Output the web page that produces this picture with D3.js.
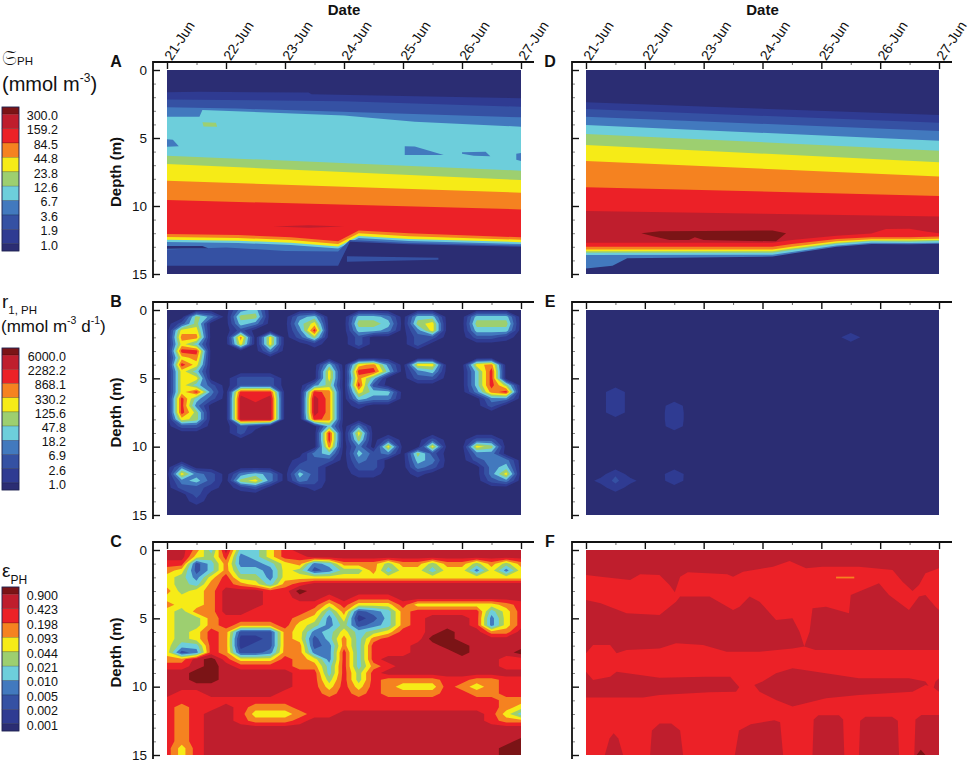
<!DOCTYPE html>
<html>
<head>
<meta charset="utf-8">
<script src="https://cdn.jsdelivr.net/npm/d3@7"></script>
<style>
  body { margin: 0; background: #fff; }
  svg text { font-family: "Liberation Sans", Arial, Helvetica, sans-serif; fill: #111; }
</style>
</head>
<body>
<svg id="chart" width="969" height="764"></svg>
<script>
// ---------- values ----------
const DAYS = ['21-Jun', '22-Jun', '23-Jun', '24-Jun', '25-Jun', '26-Jun', '27-Jun'];
const DEPTH_TICKS = [0, 5, 10, 15];

// colour of each contour level, 0 = lowest (below the last label) ... 10 = highest
const LEVEL_COLORS = ['#2b2d73', '#2f3b92', '#3551a3', '#4279be', '#6dcedb', '#9dcf70',
                      '#f6eb17', '#f58220', '#ec2127', '#bf1e2d', '#7b1416'];

const CONC_LABELS = ['300.0', '159.2', '84.5', '44.8', '23.8', '12.6', '6.7', '3.6', '1.9', '1.0'];
const RATE_LABELS = ['6000.0', '2282.2', '868.1', '330.2', '125.6', '47.8', '18.2', '6.9', '2.6', '1.0'];
const EFF_LABELS = ['0.900', '0.423', '0.198', '0.093', '0.044', '0.021', '0.010', '0.005', '0.002', '0.001'];

// Panels A, D, F: level boundaries, [level below the line, [[day, depth], ...]], top to bottom
const LAYERS_A = [
  [1, [[0, 1.64], [0.55, 1.6], [2.4, 1.66], [2.45, 1.78], [6, 2.08]]],
  [2, [[0, 2.16], [3, 2.3], [6, 2.7]]],
  [3, [[0, 2.74], [1.2, 2.84], [6, 3.48]]],
  [4, [[0, 3.43], [0.55, 3.43], [0.6, 2.94], [3, 3.35], [4.2, 3.8], [6, 4.17]]],
  [5, [[0, 6.3], [6, 7.4]]],
  [6, [[0, 6.91], [6, 8.09]]],
  [7, [[0, 8.14], [6, 9.02]]],
  [8, [[0, 9.56], [6, 10.25]]],
  [7, [[0, 12.06], [1.2, 12.13], [2.1, 12.3], [2.9, 12.6], [3.25, 11.8], [4.1, 12.0], [6, 12.3]]],
  [6, [[0, 12.28], [1.2, 12.35], [2.1, 12.5], [2.9, 12.8], [3.25, 12.0], [4.1, 12.22], [6, 12.48]]],
  [4, [[0, 12.48], [1.2, 12.55], [2.1, 12.7], [2.9, 12.97], [3.25, 12.2], [4.1, 12.42], [6, 12.66]]],
  [3, [[0, 12.64], [1.2, 12.72], [2.1, 12.86], [2.9, 13.12], [3.25, 12.36], [4.1, 12.58], [6, 12.8]]],
  [2, [[0, 13.2], [1, 13.05], [2, 13.3], [2.9, 13.35], [3.1, 12.5], [4.1, 12.72], [6, 12.9]]],
  [0, [[0, 14.4], [2.9, 14.4], [3.1, 12.62], [4.1, 12.82], [6, 13.0]]]
];
const PATCHES_A = [
  [5, [[0.6, 3.85], [0.83, 3.87], [0.85, 4.17], [0.62, 4.15]]],
  [3, [[0, 5.1], [0.1, 5.12], [0.2, 5.6], [0, 5.65]]],
  [3, [[4.03, 5.6], [4.2, 5.62], [4.69, 6.25], [4.03, 6.25]]],
  [3, [[5.0, 6.05], [5.4, 6.02], [5.48, 6.35], [5.2, 6.3], [5.0, 6.15]]],
  [3, [[5.92, 6.15], [6, 6.1], [6, 6.7], [5.92, 6.6]]],
  [9, [[1.8, 11.5], [2.4, 11.42], [3.0, 11.5], [2.4, 11.6]]],
  [2, [[3.05, 13.7], [4.6, 13.8], [4.6, 13.95], [3.05, 14.1]]],
  [0, [[0, 12.95], [0.6, 12.95], [0.7, 13.1], [0, 13.15]]]
];

const LAYERS_D = [
  [1, [[0, 2.38], [6, 3.31]]],
  [2, [[0, 2.87], [6, 3.87]]],
  [3, [[0, 3.43], [6, 4.49]]],
  [4, [[0, 4.04], [6, 5.2]]],
  [5, [[0, 4.7], [6, 5.93]]],
  [6, [[0, 5.51], [6, 6.79]]],
  [7, [[0, 6.69], [6, 7.84]]],
  [8, [[0, 8.62], [6, 9.26]]],
  [9, [[0, 10.37], [6, 10.78]]],
  [8, [[0, 12.7], [3.17, 12.7], [3.5, 12.5], [4.26, 12.18], [4.85, 12.02], [5.1, 11.7], [5.5, 11.68], [5.8, 11.9], [6, 12.0]]],
  [7, [[0, 13.0], [3.17, 13.0], [3.5, 12.8], [4.26, 12.43], [4.85, 12.3], [5.5, 12.3], [6, 12.25]]],
  [6, [[0, 13.2], [3.17, 13.2], [3.5, 13.0], [4.26, 12.6], [4.85, 12.45], [5.5, 12.45], [6, 12.4]]],
  [5, [[0, 13.33], [3.17, 13.33], [3.5, 13.13], [4.26, 12.7], [4.85, 12.54], [5.5, 12.54], [6, 12.5]]],
  [4, [[0, 13.43], [3.17, 13.43], [3.5, 13.23], [4.26, 12.78], [4.85, 12.6], [5.5, 12.62], [6, 12.58]]],
  [3, [[0, 13.6], [3.17, 13.58], [3.5, 13.38], [4.26, 12.9], [4.85, 12.7], [5.5, 12.72], [6, 12.7]]],
  [0, [[0, 14.6], [0.45, 14.4], [0.7, 13.85], [3.17, 13.72], [3.5, 13.5], [4.26, 13.0], [4.85, 12.8], [5.5, 12.82], [6, 12.78]]]
];
const PATCHES_D = [
  [10, [[0.94, 12.0], [1.25, 11.86], [2.0, 11.83], [3.17, 11.8], [3.4, 12.0], [3.23, 12.6],
        [2.0, 12.5], [1.85, 12.3], [1.75, 12.5], [1.42, 12.5], [1.14, 12.22]]]
];

const LAYERS_F = [
  [8, [[0, 1.83], [0.25, 1.95], [0.75, 2.2], [0.92, 1.78], [1.25, 1.83], [1.42, 2.56], [1.51, 3.1], [1.6, 1.95],
       [1.73, 1.63], [2.4, 1.78], [2.5, 1.95], [2.67, 1.59], [3.18, 1.22], [3.46, 0.8], [3.74, 1.34], [4.02, 1.22],
       [4.64, 1.22], [5.21, 1.46], [5.38, 2.32], [5.55, 3.0], [5.66, 2.56], [5.77, 1.71], [6, 1.34]]],
  [9, [[0, 3.66], [0.25, 3.9], [0.69, 4.63], [1.25, 4.76], [1.53, 3.78], [1.6, 3.41], [2.1, 3.41], [2.5, 4.39],
       [2.61, 4.15], [2.78, 3.41], [2.95, 3.78], [3.23, 5.12], [3.51, 5.0], [3.63, 5.98], [3.71, 7.07], [3.8, 5.98],
       [3.85, 4.27], [4.08, 4.15], [4.47, 4.63], [4.5, 3.29], [4.98, 2.44], [5.15, 3.29], [5.49, 4.39], [5.66, 3.41],
       [5.77, 3.29], [5.94, 4.15], [6, 4.39]]],
  [8, [[0, 7.56], [0.12, 6.95], [0.41, 6.95], [0.52, 7.56], [0.69, 7.32], [1.25, 7.2], [1.53, 6.83], [1.99, 6.95],
       [2.39, 7.44], [2.95, 7.44], [3.51, 7.2], [3.71, 7.07], [3.9, 7.32], [6, 7.32]]],
  [9, [[0, 8.9], [0.12, 9.51], [0.41, 9.27], [0.52, 8.9], [1.25, 9.34], [2.03, 9.27], [2.45, 9.27], [2.6, 10.0],
       [2.72, 10.4], [2.85, 9.9], [3.0, 9.63], [3.23, 9.02], [3.51, 8.66], [4.64, 9.39], [5.49, 9.39], [5.77, 9.63],
       [5.89, 10.37], [5.94, 9.63], [6, 9.39]]],
  [8, [[0, 10.8], [0.97, 10.8], [1.25, 10.61], [2.1, 10.41], [2.55, 10.37], [2.63, 9.88], [2.86, 9.88], [2.95, 10.37],
       [3.23, 10.98], [3.51, 11.46], [4.08, 10.85], [4.64, 10.61], [5.55, 10.37], [5.77, 9.88], [5.89, 10.0], [6, 10.37]]]
];
const PATCHES_F = [
  [9, [[0.32, 15], [0.4, 13.8], [0.47, 13.41], [0.55, 13.8], [0.63, 15]]],
  [9, [[1.09, 15], [1.12, 13.2], [1.25, 12.7], [1.45, 12.7], [1.6, 13.2], [1.65, 15]]],
  [9, [[2.53, 15], [2.6, 13.2], [2.8, 12.75], [3.2, 12.45], [3.3, 12.6], [3.35, 15]]],
  [9, [[3.85, 15], [3.87, 12.4], [3.95, 12.1], [4.3, 12.1], [4.37, 12.4], [4.39, 15]]],
  [9, [[4.64, 15], [4.66, 12.5], [4.75, 12.2], [5.2, 12.2], [5.3, 12.5], [5.32, 15]]],
  [9, [[5.58, 15], [5.6, 12.4], [5.7, 12.07], [6, 12.07], [6, 15]]],
  [10, [[5.62, 15], [5.69, 14.62], [5.77, 15]]],
  [7, [[4.25, 1.95], [4.56, 1.95], [4.56, 2.08], [4.25, 2.08]]]
];

// Panels B, E: non-background grid cells [day, depth, level] (grid: 0.25 day x 0.5 m)
const CELLS_B = [
  [0.25, 1, 2], [0.25, 1.5, 6], [0.25, 2, 7], [0.25, 2.5, 6], [0.25, 3, 8], [0.25, 3.5, 6], [0.25, 4, 8], [0.25, 4.5, 6],
  [0.25, 5, 6], [0.25, 5.5, 6], [0.25, 6, 6], [0.25, 6.5, 8], [0.25, 7, 8], [0.25, 7.5, 8], [0.25, 8, 6], [0.25, 8.5, 2],
  [0.5, 0.5, 5], [0.5, 1, 5], [0.5, 1.5, 6], [0.5, 2, 7], [0.5, 2.5, 4], [0.5, 3, 8], [0.5, 3.5, 7], [0.5, 4, 6],
  [0.5, 4.5, 4], [0.5, 5, 6], [0.5, 5.5, 4], [0.5, 6, 8], [0.5, 6.5, 4], [0.5, 7, 3], [0.5, 7.5, 5], [0.5, 8, 5], [0.5, 8.5, 2],
  [0.75, 0.5, 3], [0.75, 5.5, 2], [0.75, 6, 3], [0.75, 6.5, 2],
  [0.25, 11.5, 3], [0.25, 12, 6], [0.25, 12.5, 3], [0.25, 13, 2], [0.5, 12, 3], [0.5, 12.5, 4], [0.5, 13, 2],
  [0.5, 13.5, 2], [0.5, 14, 1], [0.75, 12, 2], [0.75, 12.5, 2], [0.75, 13, 1],
  [1.25, 0, 3], [1.25, 0.5, 5], [1.25, 1, 4], [1.25, 1.5, 2], [1.25, 2, 7], [1.25, 2.5, 6],
  [1.5, 0, 4], [1.5, 0.5, 5], [1.5, 1, 3], [1.75, 2, 6], [1.75, 2.5, 6], [1.75, 3, 3],
  [1.25, 5, 2], [1.5, 5, 2], [1.75, 5, 2], [1.25, 5.5, 2], [1.5, 5.5, 2], [1.75, 5.5, 2],
  [1.25, 6, 8], [1.5, 6, 8], [1.75, 6, 8], [1.25, 6.5, 9], [1.5, 6.5, 8], [1.75, 6.5, 9],
  [1.25, 7, 9], [1.5, 7, 9], [1.75, 7, 9], [1.25, 7.5, 9], [1.5, 7.5, 9], [1.75, 7.5, 9],
  [1.25, 8, 9], [1.5, 8, 9], [1.75, 8, 9], [1.25, 8.5, 2], [1.25, 9, 2], [1.5, 8.5, 1],
  [1.25, 12, 3], [1.25, 12.5, 5], [1.5, 12, 4], [1.5, 12.5, 6], [1.75, 12, 3], [1.75, 12.5, 3], [1.25, 13, 1], [1.5, 13, 2],
  [2.25, 0.5, 3], [2.25, 1, 4], [2.25, 1.5, 3], [2.25, 2, 2],
  [2.5, 0.5, 4], [2.5, 1, 6], [2.5, 1.5, 8], [2.5, 2, 5], [2.5, 2.5, 1],
  [2.5, 5.5, 3], [2.5, 6, 8], [2.5, 6.5, 9], [2.5, 7, 9], [2.5, 7.5, 9], [2.5, 8, 8],
  [2.75, 4, 4], [2.75, 4.5, 6], [2.75, 5, 6], [2.75, 5.5, 5], [2.75, 6, 7], [2.75, 6.5, 7], [2.75, 7, 7], [2.75, 7.5, 7],
  [2.75, 8, 7], [2.75, 8.5, 4], [2.75, 9, 8], [2.75, 9.5, 8], [2.75, 10, 7], [2.75, 10.5, 4],
  [2.5, 10.5, 3], [2.5, 11, 2], [2.75, 11, 2],
  [2.25, 11, 1], [2.25, 11.5, 2], [2.25, 12, 4], [2.25, 12.5, 3], [2.5, 11.5, 2], [2.5, 12, 2], [2.5, 12.5, 2], [2.5, 13, 1],
  [3.25, 0.5, 4], [3.25, 1, 5], [3.25, 1.5, 4], [3.5, 0.5, 4], [3.5, 1, 5], [3.5, 1.5, 4], [3.75, 0.5, 3], [3.75, 1, 4], [3.75, 1.5, 3],
  [3.25, 2, 2], [3.25, 2.5, 2],
  [3.25, 4, 6], [3.25, 4.5, 8], [3.25, 5, 7], [3.25, 5.5, 8], [3.25, 6, 6], [3.25, 6.5, 4], [3.25, 7, 1],
  [3.5, 4, 7], [3.5, 4.5, 8], [3.5, 5, 4], [3.5, 5.5, 2], [3.5, 6, 4], [3.5, 6.5, 3],
  [3.75, 4, 3], [3.75, 4.5, 4], [3.75, 6, 4], [3.75, 6.5, 3],
  [3.25, 8.5, 3], [3.25, 9, 6], [3.25, 9.5, 5], [3.25, 10, 3], [3.25, 10.5, 4], [3.25, 11, 3], [3.25, 11.5, 2], [3.25, 12, 1],
  [3.5, 10.5, 2], [3.5, 11, 2], [3.5, 11.5, 2], [3.5, 12, 1], [3.75, 9.5, 2], [3.75, 10, 6], [3.75, 10.5, 3],
  [4.25, 0.5, 4], [4.25, 1, 5], [4.25, 1.5, 3], [4.5, 0.5, 4], [4.5, 1, 6], [4.5, 1.5, 6], [4.5, 2, 2], [4.25, 2, 2], [4.25, 2.5, 2],
  [4.25, 4, 6], [4.25, 4.5, 3], [4.25, 5, 2], [4.5, 4, 6], [4.5, 4.5, 4], [4.5, 5, 2],
  [4.5, 9.5, 2], [4.5, 10, 6], [4.5, 10.5, 2], [4.25, 10.5, 5], [4.25, 11, 4], [4.25, 11.5, 3], [4.25, 12, 1], [4.5, 11, 3], [4.5, 11.5, 2],
  [5.25, 0.5, 4], [5.25, 1, 5], [5.25, 1.5, 4], [5.5, 0.5, 4], [5.5, 1, 5], [5.5, 1.5, 4], [5.75, 0.5, 4], [5.75, 1, 5], [5.75, 1.5, 4],
  [5.25, 2, 2], [5.5, 2, 2], [5.75, 2, 1],
  [5.25, 4, 6], [5.25, 4.5, 4], [5.25, 5, 4], [5.25, 5.5, 4], [5.25, 6, 3],
  [5.5, 4, 7], [5.5, 4.5, 8], [5.5, 5, 8], [5.5, 5.5, 8], [5.5, 6, 7], [5.5, 6.5, 3], [5.5, 7, 2],
  [5.75, 5.5, 5], [5.75, 6, 8], [5.75, 6.5, 3],
  [5.25, 9.5, 2], [5.25, 10, 6], [5.25, 10.5, 3], [5.25, 11, 2], [5.5, 9.5, 2], [5.5, 10, 5], [5.5, 10.5, 3], [5.5, 11, 3],
  [5.5, 11.5, 3], [5.75, 11, 3], [5.75, 11.5, 4], [5.75, 12, 6], [5.75, 12.5, 3], [5.5, 12, 3], [5.5, 12.5, 2]
];
const CELLS_E = [
  [0.5, 6, 1.4], [0.5, 6.5, 1.4], [0.5, 7, 1.4], [0.5, 7.5, 1.4],
  [1.5, 7, 1.2], [1.5, 7.5, 1.4], [1.5, 8, 1.4], [1.5, 8.5, 1.2],
  [0.5, 12, 1.4], [0.5, 12.5, 1.7], [0.5, 13, 1.2], [0.25, 12.5, 0.9], [0.75, 12.5, 0.9],
  [1.5, 12, 1.4], [1.5, 12.5, 1.3],
  [4.5, 2, 1.4]
];

// Panel C: levels on the full grid, one string per depth row (0 to 15 m), one char per quarter day (a = 10)
const ROWS_C = [
  '9974944689999999999999999', '9965834688999999999999999', '8824733467347775775775757',
  '7624744365235574664663636', '6536855366666666666666666', '6547876478999999999999999',
  '756799988a999999999999999', '6667999889989888999999999', '7667999888868666866666678',
  '6577998888747234788888468', '6557888887636124789998368', '6557877786535234789998368',
  '6568722276346456889a99779', '656871127624747888aa99999', '6448712277237488899aa9999',
  '62387223773384888999a999a', '779a866687638489999999988', '889a988887748478999999988',
  '99aa999998848589999999999', '99aa999998858587777887788', '9999999998868687666876788',
  '9889999988878787777887788', '8888888888888888888888877', '8788987778888888888888876',
  '8789986667889999999999864', '8789987778999999999999877', '8789999999999999999999999',
  '8789999999999999999999999', '878999999999999999999999a', '86899999999999999999999aa',
  '86899999999999999999999aa'
];

// ---------- layout ----------
const GRID_NX = 25, GRID_NY = 31, DAY_STEP = 0.25, DEPTH_STEP = 0.5;
const COLS = [[167, 521], [586, 939]];
const ROWS = [[70, 274], [310, 515], [550, 755]];
const LETTER_X = [116, 550];

const svg = d3.select('#chart');
const defs = svg.append('defs');

function panelScales(col, row) {
  const x = d3.scaleLinear().domain([0, 6]).range(COLS[col]);
  const y = d3.scaleLinear().domain([0, 15]).range(ROWS[row]);
  return { x, y };
}

function plotGroup(id, col, row) {
  const { x, y } = panelScales(col, row);
  defs.append('clipPath').attr('id', 'clip' + id)
    .append('rect')
    .attr('x', x(0)).attr('y', y(0))
    .attr('width', x(6) - x(0)).attr('height', y(15) - y(0));
  return svg.append('g').attr('clip-path', `url(#clip${id})`);
}

function drawLayers(id, col, row, base, layers, patches) {
  const { x, y } = panelScales(col, row);
  const g = plotGroup(id, col, row);
  g.append('rect')
    .attr('x', x(0)).attr('y', y(0))
    .attr('width', x(6) - x(0)).attr('height', y(15) - y(0))
    .attr('fill', LEVEL_COLORS[base]);
  const area = d3.area().x(d => x(d[0])).y0(d => y(d[1])).y1(y(15));
  g.selectAll('path.layer')
    .data(layers)
    .join('path')
    .attr('class', 'layer')
    .attr('d', d => area(d[1]))
    .attr('fill', d => LEVEL_COLORS[d[0]]);
  const line = d3.line().x(d => x(d[0])).y(d => y(d[1])).curve(d3.curveLinearClosed);
  g.selectAll('path.patch')
    .data(patches)
    .join('path')
    .attr('class', 'patch')
    .attr('d', d => line(d[1]))
    .attr('fill', d => LEVEL_COLORS[d[0]]);
}

function cellsToValues(cells) {
  const v = new Array(GRID_NX * GRID_NY).fill(0);
  cells.forEach(([day, depth, level]) => {
    v[Math.round(depth / DEPTH_STEP) * GRID_NX + Math.round(day / DAY_STEP)] = level;
  });
  return v;
}

function rowsToValues(rows) {
  return rows.flatMap(r => r.split('').map(ch => parseInt(ch, 16)));
}

function drawContours(id, col, row, values) {
  const { x, y } = panelScales(col, row);
  const g = plotGroup(id, col, row);
  const contours = d3.contours()
    .size([GRID_NX, GRID_NY])
    .thresholds(d3.range(0.5, 10, 1))(values);
  const proj = d3.geoTransform({
    point(px, py) {
      this.stream.point(x((px - 0.5) * DAY_STEP), y((py - 0.5) * DEPTH_STEP));
    }
  });
  const path = d3.geoPath(proj);
  g.append('rect')
    .attr('x', x(0)).attr('y', y(0))
    .attr('width', x(6) - x(0)).attr('height', y(15) - y(0))
    .attr('fill', LEVEL_COLORS[0]);
  g.selectAll('path')
    .data(contours)
    .join('path')
    .attr('d', path)
    .attr('fill', (d, i) => LEVEL_COLORS[i + 1]);
}

function drawFrame(letter, col, row) {
  const { x, y } = panelScales(col, row);
  const g = svg.append('g');
  const left = x(0) - 14, top = y(0) - 8, right = x(6) + 13, bottom = y(15) + 4;

  // top axis, ticks pointing down into the plot
  const gt = g.append('g').attr('transform', `translate(0,${top})`)
    .call(d3.axisTop(x).tickValues(d3.range(0, 7)).tickSize(-7).tickPadding(0)
      .tickFormat((d, i) => row === 0 ? DAYS[i] : ''));
  gt.call(s => s.select('.domain').remove());
  gt.selectAll('line').attr('stroke', '#111').attr('stroke-width', 1.4);
  gt.selectAll('text')
    .attr('x', 3).attr('y', -1).attr('dy', '0.3em')
    .attr('transform', 'rotate(-57)')
    .style('text-anchor', 'start')
    .style('font-size', '14px');
  const gtm = g.append('g').attr('transform', `translate(0,${top})`)
    .call(d3.axisTop(x).tickValues(d3.range(0.5, 6, 1)).tickSize(-3).tickFormat(''));
  gtm.call(s => s.select('.domain').remove());
  gtm.selectAll('line').attr('stroke', '#444').attr('stroke-width', 0.8);

  // left axis, ticks pointing right
  const gl = g.append('g').attr('transform', `translate(${left},0)`)
    .call(d3.axisLeft(y).tickValues(DEPTH_TICKS).tickSize(-7).tickPadding(6)
      .tickFormat(d => col === 0 ? d : ''));
  gl.call(s => s.select('.domain').remove());
  gl.selectAll('line').attr('stroke', '#111').attr('stroke-width', 1.4);
  gl.selectAll('text').style('font-size', '13.5px');
  const glm = g.append('g').attr('transform', `translate(${left},0)`)
    .call(d3.axisLeft(y).tickValues(d3.range(0, 16).filter(d => d % 5 !== 0)).tickSize(-3).tickFormat(''));
  glm.call(s => s.select('.domain').remove());
  glm.selectAll('line').attr('stroke', '#666').attr('stroke-width', 0.8);

  // spines
  g.append('path')
    .attr('d', `M${right},${top}H${left}V${bottom}`)
    .attr('fill', 'none').attr('stroke', '#111').attr('stroke-width', 1.8);

  g.append('text')
    .attr('x', LETTER_X[col]).attr('y', y(0) - 3)
    .attr('text-anchor', 'middle')
    .style('font-size', '16px').style('font-weight', 'bold')
    .text(letter);

  if (col === 0) {
    g.append('text')
      .attr('transform', `translate(121,${(y(0) + y(15)) / 2}) rotate(-90)`)
      .attr('text-anchor', 'middle')
      .style('font-size', '15px').style('font-weight', 'bold')
      .text('Depth (m)');
  }
  if (row === 0) {
    g.append('text')
      .attr('x', (x(0) + x(6)) / 2).attr('y', 15)
      .attr('text-anchor', 'middle')
      .style('font-size', '15px').style('font-weight', 'bold')
      .text('Date');
  }
}

function drawLegend(y0, y1, labels, labelX) {
  const ly = d3.scaleLinear().domain([10, 0]).range([y0, y1]);
  const g = svg.append('g');
  const levels = d3.range(10, -1, -1);
  g.selectAll('rect')
    .data(levels)
    .join('rect')
    .attr('x', 2).attr('width', 17)
    .attr('y', d => ly(Math.min(10, d + 0.5)))
    .attr('height', d => ly(Math.max(0, d - 0.5)) - ly(Math.min(10, d + 0.5)))
    .attr('fill', d => LEVEL_COLORS[d])
    .attr('stroke', 'rgba(0,0,0,0.3)').attr('stroke-width', 0.6);
  g.append('rect')
    .attr('x', 2).attr('y', y0).attr('width', 17).attr('height', y1 - y0)
    .attr('fill', 'none').attr('stroke', '#22265a').attr('stroke-width', 0.8);
  g.selectAll('text')
    .data(labels)
    .join('text')
    .attr('x', labelX)
    .attr('y', (d, i) => ly(9.5 - i) + 1.5)
    .attr('dy', '0.35em')
    .attr('text-anchor', 'end')
    .style('font-size', '12.5px')
    .text(d => d);
}

// ---------- draw ----------
drawLayers('A', 0, 0, 0, LAYERS_A, PATCHES_A);
drawContours('B', 0, 1, cellsToValues(CELLS_B));
drawContours('C', 0, 2, rowsToValues(ROWS_C));
drawLayers('D', 1, 0, 0, LAYERS_D, PATCHES_D);
drawContours('E', 1, 1, cellsToValues(CELLS_E));
drawLayers('F', 1, 2, 9, LAYERS_F, PATCHES_F);

[['A', 0, 0], ['B', 0, 1], ['C', 0, 2], ['D', 1, 0], ['E', 1, 1], ['F', 1, 2]]
  .forEach(([l, c, r]) => drawFrame(l, c, r));

drawLegend(107, 251, CONC_LABELS, 58);
drawLegend(348, 490, RATE_LABELS, 66);
drawLegend(587, 731, EFF_LABELS, 58);

// legend titles
const t1 = svg.append('text').attr('x', 2).attr('y', 65);
t1.append('tspan').style('font-family', '"DejaVu Serif", "DejaVu Sans", serif').style('font-size', '21px').text('𝔖');
t1.append('tspan').style('font-size', '11.5px').text('PH');
const t1b = svg.append('text').attr('x', 2).attr('y', 91).style('font-size', '20px');
t1b.append('tspan').text('(mmol m');
t1b.append('tspan').attr('dy', -9).style('font-size', '12px').text('-3');
t1b.append('tspan').attr('dy', 9).text(')');

const t2 = svg.append('text').attr('x', 2).attr('y', 308).style('font-size', '19px');
t2.append('tspan').text('r');
t2.append('tspan').attr('dy', 6).style('font-size', '11.5px').text('1, PH');
const t2b = svg.append('text').attr('x', 1).attr('y', 332).style('font-size', '17px');
t2b.append('tspan').text('(mmol m');
t2b.append('tspan').attr('dy', -8).style('font-size', '10.5px').text('-3');
t2b.append('tspan').attr('dy', 8).text(' d');
t2b.append('tspan').attr('dy', -8).style('font-size', '10.5px').text('-1');
t2b.append('tspan').attr('dy', 8).text(')');

const t3 = svg.append('text').attr('x', 2).attr('y', 577).style('font-size', '19px');
t3.append('tspan').text('ε');
t3.append('tspan').attr('dy', 7).style('font-size', '12px').text('PH');
</script>
</body>
</html>
